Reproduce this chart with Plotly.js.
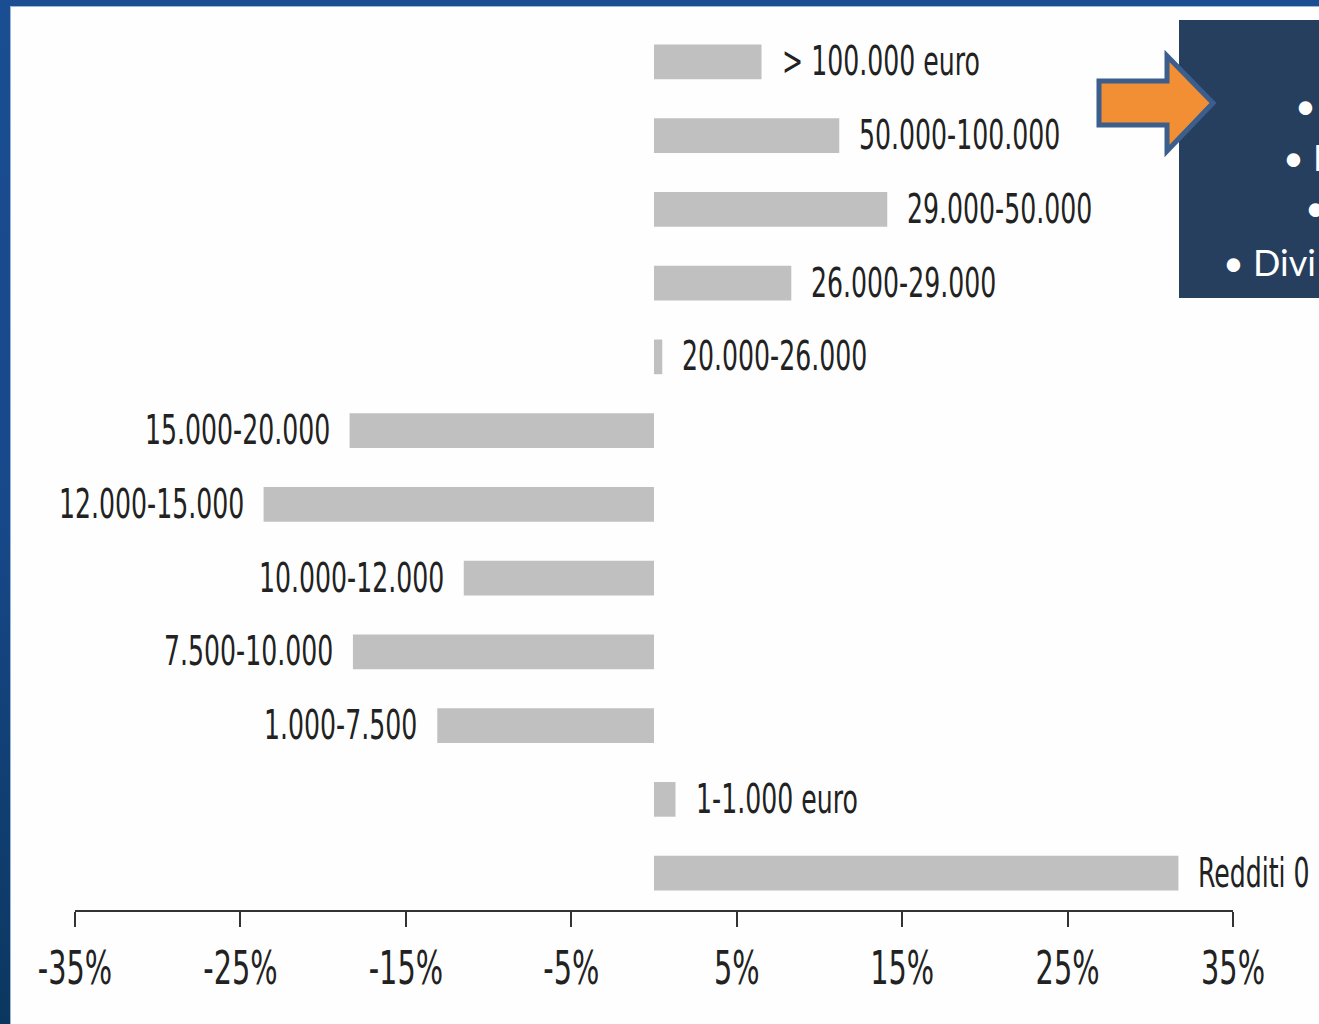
<!DOCTYPE html>
<html>
<head>
<meta charset="utf-8">
<script src="https://cdn.plot.ly/plotly-3.0.1.min.js"></script>
<style>
  html, body { margin:0; padding:0; width:1319px; height:1024px; overflow:hidden; }
  body { background: linear-gradient(180deg, #1b4d93 0%, #17488a 50%, #0b375f 100%); position:relative; }
  #sheet { position:absolute; left:10px; top:6px; right:0; bottom:0; background:#fefefe;
           border-left:1px solid #9ab6da; border-top:1px solid #9ab6da; }
  #chart { position:absolute; left:0; top:0; width:1319px; height:1024px; }
</style>
</head>
<body>
<div id="sheet"></div>
<div id="chart"></div>
<script>
// ---- data ----
const categories = [
  "> 100.000 euro", "50.000-100.000", "29.000-50.000", "26.000-29.000",
  "20.000-26.000", "15.000-20.000", "12.000-15.000", "10.000-12.000",
  "7.500-10.000", "1.000-7.500", "1-1.000 euro", "Redditi 0"
];
const values = [6.5, 11.2, 14.1, 8.3, 0.5, -18.4, -23.6, -11.5, -18.2, -13.1, 1.3, 31.7];
const tickValues = [-35, -25, -15, -5, 5, 15, 25, 35];
const tickLabels = ["-35%", "-25%", "-15%", "-5%", "5%", "15%", "25%", "35%"];
const boxLines = ["•", "• F", "•", "• Divi"];

// ---- layout helpers (pixel -> paper) ----
const W = 1319, H = 1024, ML = 75, MR = 86, MT = 25, MB = 114;
const PW = W - ML - MR, PH = H - MT - MB;
const px = x => (x - ML) / PW;
const py = y => (H - MB - y) / PH;

const FONT = '"Liberation Sans Narrow", "Arial Narrow", "DejaVu Sans Condensed", sans-serif';
const STRETCH = 1.45;

const trace = {
  type: 'bar',
  orientation: 'h',
  x: values,
  y: categories,
  marker: { color: '#c0c0c0', line: { width: 0 } },
  hoverinfo: 'skip',
  showlegend: false
};

const annotations = categories.map((c, i) => ({
  x: values[i], y: c, xref: 'x', yref: 'y',
  text: c,
  showarrow: false,
  xanchor: values[i] >= 0 ? 'left' : 'right',
  xshift: values[i] >= 0 ? 18 : -18,
  font: { family: FONT, size: 28, color: '#222' }
}));

const boxPos = [[1293, 105], [1281, 157], [1303, 207], [1221, 262]];
boxLines.forEach((t, i) => {
  annotations.push({
    x: px(boxPos[i][0]), y: py(boxPos[i][1]), xref: 'paper', yref: 'paper',
    text: t, showarrow: false, xanchor: 'left', yanchor: 'middle',
    font: { family: 'Lato, "Open Sans", sans-serif', size: 36, color: '#ffffff' }
  });
});

function pathFromPixels(pts) {
  return 'M' + pts.map(p => px(p[0]).toFixed(5) + ',' + py(p[1]).toFixed(5)).join(' L') + ' Z';
}

const shapes = [
  { type: 'rect', xref: 'paper', yref: 'paper', x0: px(1179), x1: px(1330), y0: py(298), y1: py(20),
    fillcolor: '#263f5f', line: { width: 0 }, layer: 'above' },
  { type: 'path', xref: 'paper', yref: 'paper', layer: 'above',
    path: pathFromPixels([[1099, 81], [1167, 81], [1167, 56], [1213, 103], [1167, 151], [1167, 125], [1099, 125]]),
    fillcolor: '#f28e33', line: { color: '#3b5e8c', width: 5 } }
];

const layout = {
  width: W, height: H,
  margin: { l: ML, r: MR, t: MT, b: MB, pad: 0 },
  paper_bgcolor: 'rgba(0,0,0,0)',
  plot_bgcolor: 'rgba(0,0,0,0)',
  bargap: 0.53,
  showlegend: false,
  xaxis: {
    range: [-35, 35],
    tickvals: tickValues,
    ticktext: tickLabels,
    ticks: 'outside', ticklen: 15, tickwidth: 2, tickcolor: '#333',
    showline: true, linecolor: '#333', linewidth: 2,
    showgrid: false, zeroline: false,
    ticklabelstandoff: 14,
    tickfont: { family: FONT, size: 32, color: '#222' },
    fixedrange: true
  },
  yaxis: {
    type: 'category',
    autorange: false,
    range: [11.5, -0.5],
    showticklabels: false, ticks: '', showline: false, showgrid: false, zeroline: false,
    fixedrange: true
  },
  annotations: annotations,
  shapes: shapes
};

// stretch condensed text vertically to mimic the tall narrow lettering of the original
function stretchText(el, k) {
  const bb = el.getBBox();
  const cx = bb.x + bb.width / 2, cy = bb.y + bb.height / 2;
  const prev = el.getAttribute('transform') || '';
  el.setAttribute('transform', prev + ' translate(' + cx + ',' + cy + ') scale(1,' + k + ') translate(' + (-cx) + ',' + (-cy) + ')');
}

Plotly.newPlot('chart', [trace], layout, { displayModeBar: false, staticPlot: true }).then(gd => {
  gd.querySelectorAll('g.annotation').forEach(g => {
    const idx = +g.getAttribute('data-index');
    if (idx < categories.length) {
      const t = g.querySelector('text.annotation-text');
      if (t) stretchText(t, STRETCH);
    }
  });
  gd.querySelectorAll('g.xtick text').forEach(t => stretchText(t, STRETCH));
});
</script>
</body>
</html>
